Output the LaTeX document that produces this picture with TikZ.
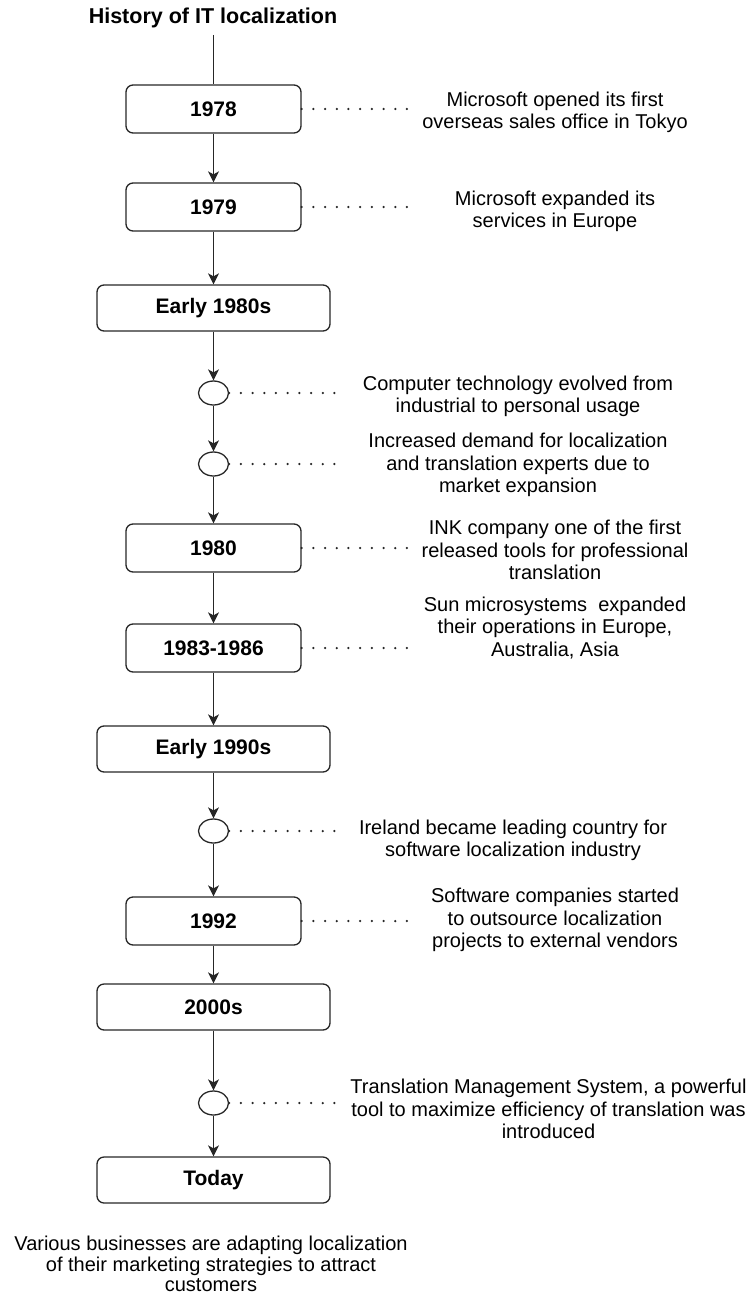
\documentclass[tikz,border=0pt]{standalone}
\usepackage{fontspec}
\setmainfont{Liberation Sans}
\usetikzlibrary{arrows.meta,shapes.geometric}

\tikzset{
  stroke/.style={draw=black!85, line width=1.3pt},
  yearbox/.style={stroke, rounded corners=7pt, minimum width=175pt, minimum height=48pt,
    font=\fontsize{21}{24}\selectfont\bfseries, inner sep=0pt},
  widebox/.style={yearbox, minimum width=233pt, minimum height=46pt},
  eventdot/.style={stroke, ellipse, minimum width=30pt, minimum height=24pt, inner sep=0pt},
  flow/.style={stroke, -{Stealth[length=11pt,width=11pt,inset=3pt]}},
  leader/.style={draw=black!85, line width=2.5pt, line cap=round, dash pattern=on 0pt off 11.7pt},
  note/.style={align=center, font=\fontsize{20}{22.3}\selectfont, inner sep=0pt},
}

\begin{document}
\begin{tikzpicture}[x=1pt, y=-1pt]
  \useasboundingbox (0,0) rectangle (751,1295);

  % title and top of the time line
  \node[font=\fontsize{21.5}{24}\selectfont\bfseries] (title) at (213,18) {History of IT localization};
  \coordinate (start) at (213.5,35);

  % time line milestones
  \node[yearbox] (y1978) at (213.5,109) {1978};
  \node[yearbox] (y1979) at (213.5,207) {1979};
  \node[widebox] (e1980s) at (213.5,308) {Early 1980s};
  \node[eventdot] (c1) at (213.5,393) {};
  \node[eventdot] (c2) at (213.5,464) {};
  \node[yearbox] (y1980) at (213.5,548) {1980};
  \node[yearbox] (y1983) at (213.5,648) {1983-1986};
  \node[widebox] (e1990s) at (213.5,749) {Early 1990s};
  \node[eventdot] (c3) at (213.5,831) {};
  \node[yearbox] (y1992) at (213.5,921) {1992};
  \node[widebox] (s2000) at (213.5,1007) {2000s};
  \node[eventdot] (c4) at (213.5,1103) {};
  \node[widebox] (today) at (213.5,1180) {Today};

  % connectors along the time line
  \draw[stroke] (start) -- (y1978);
  \draw[flow] (y1978) -- (y1979);
  \draw[flow] (y1979) -- (e1980s);
  \draw[flow] (e1980s) -- (c1);
  \draw[flow] (c1) -- (c2);
  \draw[flow] (c2) -- (y1980);
  \draw[flow] (y1980) -- (y1983);
  \draw[flow] (y1983) -- (e1990s);
  \draw[flow] (e1990s) -- (c3);
  \draw[flow] (c3) -- (y1992);
  \draw[flow] (y1992) -- (s2000);
  \draw[flow] (s2000) -- (c4);
  \draw[flow] (c4) -- (today);

  % descriptions
  \node[note] (t1978) at (555,112) {Microsoft opened its first\\overseas sales office in Tokyo};
  \node[note] (t1979) at (555,211) {Microsoft expanded its\\services in Europe};
  \node[note] (tc1) at (518,396) {Computer technology evolved from\\industrial to personal usage};
  \node[note] (tc2) at (518,465) {Increased demand for localization\\and translation experts due to\\market expansion};
  \node[note] (t1980) at (555,550) {INK company one of the first\\released tools for professional\\translation};
  \node[note] (t1983) at (555,628) {Sun microsystems\ \ expanded\\their operations in Europe,\\Australia, Asia};
  \node[note] (tc3) at (513,840) {Ireland became leading country for\\software localization industry};
  \node[note] (t1992) at (555,920) {Software companies started\\to outsource localization\\projects to external vendors};
  \node[note] (tc4) at (548.5,1109) {Translation Management System, a powerful\\tool to maximize efficiency of translation was\\introduced};
  \node[note, font=\fontsize{20}{20.8}\selectfont] (ttoday) at (211,1264) {Various businesses are adapting localization\\of their marketing strategies to attract\\customers};

  % dotted leaders to the descriptions
  \coordinate (l1978) at (410,109);
  \coordinate (l1979) at (410,207);
  \coordinate (lc1) at (337,393);
  \coordinate (lc2) at (337,464);
  \coordinate (l1980) at (410,548);
  \coordinate (l1983) at (410,648);
  \coordinate (lc3) at (337,831);
  \coordinate (l1992) at (410,921);
  \coordinate (lc4) at (336,1103);
  \draw[leader] (y1978.east) -- (l1978);
  \draw[leader] (y1979.east) -- (l1979);
  \draw[leader] (c1.east) -- (lc1);
  \draw[leader] (c2.east) -- (lc2);
  \draw[leader] (y1980.east) -- (l1980);
  \draw[leader] (y1983.east) -- (l1983);
  \draw[leader] (c3.east) -- (lc3);
  \draw[leader] (y1992.east) -- (l1992);
  \draw[leader] (c4.east) -- (lc4);
\end{tikzpicture}
\end{document}
